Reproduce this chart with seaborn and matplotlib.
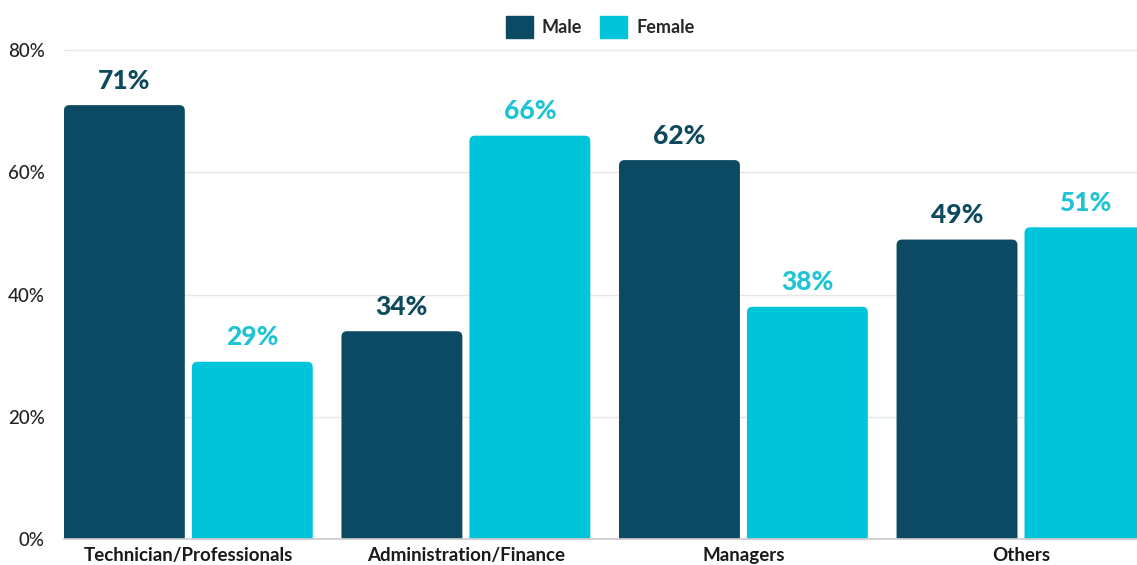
import matplotlib
matplotlib.use("Agg")
import matplotlib.pyplot as plt
import seaborn as sns
import pandas as pd
from matplotlib.patches import FancyBboxPatch

categories = ["Technician/Professionals", "Administration/Finance", "Managers", "Others"]
male = [71, 34, 62, 49]
female = [29, 66, 38, 51]
series = ["Male", "Female"]
yticks = [0, 20, 40, 60, 80]
ytick_labels = ["0%", "20%", "40%", "60%", "80%"]

colors = {"Male": "#0B4A62", "Female": "#00C5DA"}
label_colors = {"Male": "#0E4A5E", "Female": "#1EC4D6"}

df = pd.DataFrame({
    "category": categories * 2,
    "gender": ["Male"] * len(categories) + ["Female"] * len(categories),
    "value": male + female,
})

sns.set_theme(style="white")
plt.rcParams["font.family"] = ["Lato", "DejaVu Sans"]

fig = plt.figure(figsize=(11.37, 5.65), dpi=100)
ax = fig.add_axes([64 / 1137, 1 - 539 / 565, 1 - 64 / 1137, (539 - 44) / 565])

sns.barplot(data=df, x="category", y="value", hue="gender", order=categories,
            hue_order=series, palette=colors, width=0.922, gap=0.055,
            saturation=1, ax=ax, legend=True, errorbar=None, edgecolor="none")

ax.set_ylim(0, 81)
ax.set_xlim(-0.448, 3.418)
ax.set_yticks(yticks)
ax.set_yticklabels(ytick_labels, fontsize=13.5, color="#222222", fontweight="medium")
ax.yaxis.grid(True, color="#e6e6e6", linewidth=1)
ax.set_axisbelow(True)
ax.set_xlabel("")
ax.set_ylabel("")
for s in ["top", "right", "left"]:
    ax.spines[s].set_visible(False)
ax.spines["bottom"].set_color("#cccccc")
ax.spines["bottom"].set_zorder(3)
ax.tick_params(axis="x", length=0, pad=6)
ax.tick_params(axis="y", length=0, pad=14)
for lbl in ax.get_xticklabels():
    lbl.set_fontweight("bold")
    lbl.set_fontsize(13.5)
    lbl.set_color("#1a1a1a")

# px per data unit
sx = 277.5
sy = 6.1125

for cont, g in zip(ax.containers, series):
    vals = df[df.gender == g]["value"].tolist()
    for rect, v in zip(cont, vals):
        x, w, h = rect.get_x(), rect.get_width(), rect.get_height()
        rect.set_visible(False)
        p = FancyBboxPatch((x, -3), w, h + 3, boxstyle="round,pad=0,rounding_size=0.02",
                           mutation_aspect=sx / sy,
                           facecolor=colors[g], edgecolor="none", zorder=2)
        ax.add_patch(p)
        ax.annotate(f"{v}%", (x + w / 2, h),
                    xytext=(0, 9), textcoords="offset points", ha="center", va="bottom",
                    fontsize=19, fontweight="black", color=label_colors[g], clip_on=False)

leg = ax.get_legend()
leg.remove()
handles = [plt.Rectangle((0, 0), 1, 1, color=colors[s]) for s in series]
fig.legend(handles, series, loc="center", bbox_to_anchor=(600 / 1137, 1 - 27 / 565),
           ncol=2, frameon=False, handlelength=1.5, handleheight=1.5, handletextpad=0.5,
           columnspacing=1.0, prop={"weight": "bold", "size": 13})

fig.savefig("out.png", dpi=100)
